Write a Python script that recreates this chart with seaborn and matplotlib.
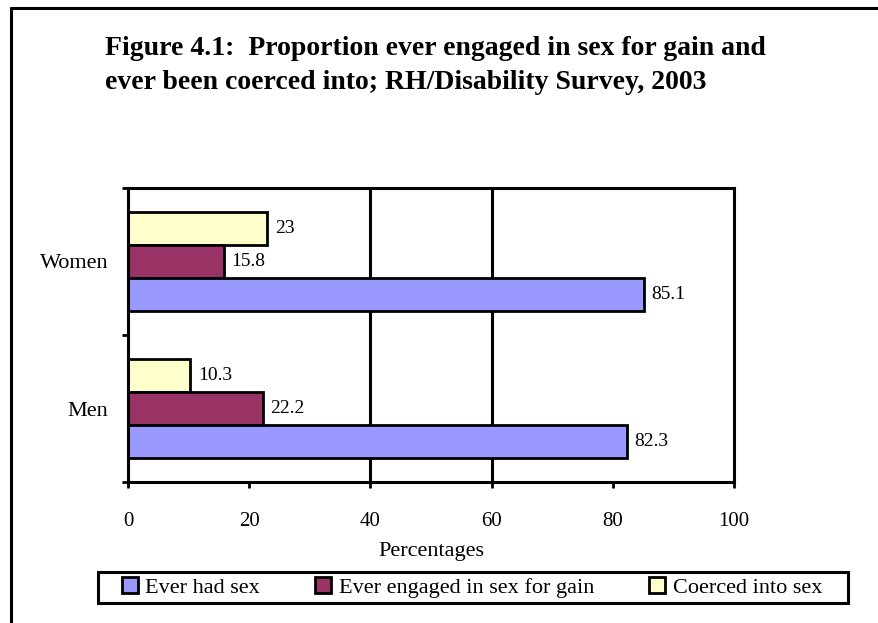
import matplotlib
matplotlib.use("Agg")
import matplotlib.pyplot as plt
from matplotlib.patches import Patch, Rectangle
from matplotlib.lines import Line2D
import seaborn as sns
import pandas as pd

# ---- data ----
categories = ["Women", "Men"]
series_names = ["Ever had sex", "Ever engaged in sex for gain", "Coerced into sex"]
ever_had_sex = [85.1, 82.3]
sex_for_gain = [15.8, 22.2]
coerced = [23.0, 10.3]
x_ticks = [0, 20, 40, 60, 80, 100]
title_lines = ["Figure 4.1:  Proportion ever engaged in sex for gain and",
               "ever been coerced into; RH/Disability Survey, 2003"]
x_label = "Percentages"

colors = {"Ever had sex": "#9999FF",
          "Ever engaged in sex for gain": "#993366",
          "Coerced into sex": "#FFFFCC"}

rows = []
for name, vals in zip(series_names, [ever_had_sex, sex_for_gain, coerced]):
    for cat, v in zip(categories, vals):
        rows.append({"Sex": cat, "Measure": name, "Value": v})
df = pd.DataFrame(rows)

sns.set_theme(style="white")
plt.rcParams["font.family"] = ["Liberation Serif", "DejaVu Serif"]
plt.rcParams["text.color"] = "black"
plt.rcParams["axes.labelcolor"] = "black"
plt.rcParams["xtick.color"] = "black"
plt.rcParams["ytick.color"] = "black"

W, H = 879, 623
fig = plt.figure(figsize=(W / 100, H / 100), dpi=100)
ax = fig.add_axes([128 / W, (H - 482) / H, (734 - 128) / W, (482 - 188) / H])

hue_order = ["Coerced into sex", "Ever engaged in sex for gain", "Ever had sex"]
sns.barplot(data=df, y="Sex", x="Value", hue="Measure", order=categories,
            hue_order=hue_order, palette=colors, orient="h", width=0.667,
            edgecolor="black", linewidth=2, saturation=1, ax=ax, legend=False,
            zorder=2)

for c in ax.containers:
    ax.bar_label(c, fmt="%g", padding=5.5, fontsize=14, color="black")

for gx in [40, 60]:
    ax.axvline(gx, color="black", lw=2.2, zorder=0.5)

ax.set_xlim(0, 100)
ax.set_ylim(1.5, -0.5)
ax.set_xticks(x_ticks)
ax.set_xticklabels([str(t) for t in x_ticks], fontsize=15)
ax.tick_params(axis="x", which="major", direction="out", length=4.5, width=2,
               color="black", labelcolor="black", pad=17, bottom=True)

ax.set_yticks([-0.5, 0.5, 1.5])
ax.set_yticklabels([])
ax.set_yticks([0, 1], minor=True)
ax.set_yticklabels(categories, minor=True, fontsize=16)
ax.tick_params(axis="y", which="major", direction="out", length=4.5, width=2,
               color="black", left=True)
ax.tick_params(axis="y", which="minor", length=0, pad=14, labelcolor="black")

ax.set_ylabel("")
ax.set_xlabel(x_label, fontsize=16, labelpad=8, color="black")

for s in ax.spines.values():
    s.set_visible(True)
    s.set_color("black")
    s.set_linewidth(2.2)

# title
fig.text(105 / W, 1 - 55 / H, title_lines[0], fontsize=20, fontweight="bold",
         va="baseline", ha="left", color="black")
fig.text(105 / W, 1 - 89 / H, title_lines[1], fontsize=20, fontweight="bold",
         va="baseline", ha="left", color="black")

# legend
handles = [Patch(facecolor=colors[n], edgecolor="black", linewidth=2, label=n)
           for n in series_names]
leg = fig.legend(handles=handles, loc="center left",
                 bbox_to_anchor=(122 / W, (H - 603) / H, (822 - 122) / W, (603 - 572) / H),
                 mode="expand", ncol=3, fontsize=16, frameon=False,
                 handlelength=0.7, handleheight=0.7,
                 handletextpad=0.35, borderpad=0.0, borderaxespad=0)
for t in leg.get_texts():
    t.set_color("black")
fig.add_artist(Rectangle((98 / W, (H - 603) / H), (848 - 98) / W, (603 - 572) / H,
                         transform=fig.transFigure, facecolor="none",
                         edgecolor="black", lw=2.2))

# outer border (left and top)
fig.add_artist(Line2D([11 / W, 11 / W], [0, 1 - 8 / H], transform=fig.transFigure,
                      color="black", lw=2.2))
fig.add_artist(Line2D([11 / W, 1], [1 - 8 / H, 1 - 8 / H], transform=fig.transFigure,
                      color="black", lw=2.2))

fig.savefig("out.png", dpi=100)
